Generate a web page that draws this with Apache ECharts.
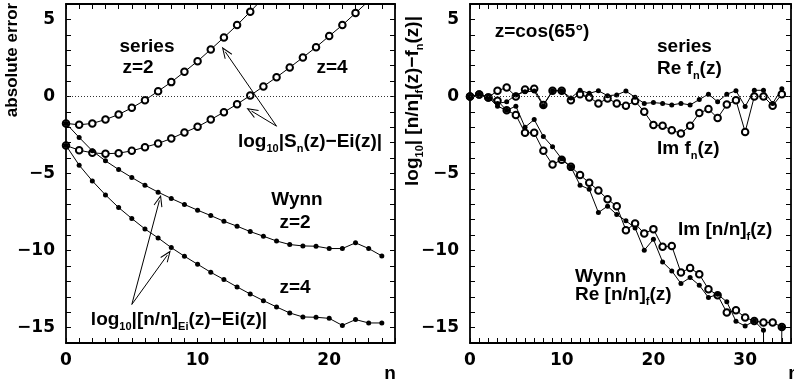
<!DOCTYPE html>
<html><head><meta charset="utf-8">
<script src="https://cdn.jsdelivr.net/npm/echarts@6/dist/echarts.min.js"></script>
<style>html,body{margin:0;padding:0;background:#fff}#c{width:794px;height:392px}</style>
</head><body><div id="c"></div>
<script>
// ---- Left panel data (n = index) ----
const seriesZ2 = [-1.75, -1.84, -1.75, -1.5, -1.17, -0.74, -0.24, 0.34, 0.93, 1.6, 2.29, 3.05, 3.83, 4.63, 5.5, 6.4];
const seriesZ4 = [-3.18, -3.49, -3.66, -3.72, -3.68, -3.53, -3.29, -3.05, -2.73, -2.34, -1.97, -1.5, -1.02, -0.5, 0.06, 0.65, 1.25, 1.88, 2.53, 3.2, 3.92, 4.63, 5.41, 6.2];
const wynnZ2 = [-1.75, -2.66, -3.53, -4.18, -4.74, -5.26, -5.76, -6.21, -6.62, -7.01, -7.38, -7.73, -8.1, -8.42, -8.77, -9.07, -9.38, -9.61, -9.7, -9.72, -9.87, -9.87, -9.5, -9.87, -10.35];
const wynnZ4 = [-3.18, -4.46, -5.48, -6.39, -7.21, -7.92, -8.6, -9.18, -9.81, -10.37, -10.89, -11.41, -11.88, -12.36, -12.82, -13.25, -13.66, -14.05, -14.31, -14.33, -14.4, -14.86, -14.48, -14.7, -14.7];
// ---- Right panel data (n = index) ----
const reF = [0, 0.12, -0.06, -0.45, -0.35, 0.1, 0.3, 0.35, -0.6, 0.37, 0.37, -0.1, 0.4, 0.2, 0.37, 0.05, 0.1, 0.35, -0.05, -0.45, -0.4, -0.45, -0.55, -0.45, -0.55, -0.2, 0.15, -0.35, 0.15, 0.37, -0.65, 0.4, 0.4, -0.45, 0.5];
const imF = [0, 0.13, -0.06, 0.37, 0.58, 0.0, 0.45, 0.5, -0.55, 0.37, 0.37, -0.24, 0.15, -0.06, -0.45, -0.13, -0.45, -0.6, -0.3, -1.0, -1.86, -1.9, -2.19, -2.4, -1.9, -1.08, -0.82, -1.4, -0.52, -0.25, -2.3, 0.0, 0.0, -0.6, 0.15];
const wynnRe = [0, 0.13, -0.06, -0.63, -0.9, -0.63, -2.0, -1.5, -2.6, -3.27, -4.05, -4.57, -5.76, -6.02, -7.53, -7.12, -7.66, -8.07, -8.53, -9.98, -9.27, -10.74, -11.32, -12.14, -11.75, -12.25, -13.05, -12.84, -13.33, -14.59, -14.9, -14.57, -15.17, -99, -14.96];
const wynnIm = [0, 0.13, -0.06, -0.28, -0.9, -1.2, -2.36, -2.36, -3.53, -4.42, -4.1, -4.57, -5.1, -5.6, -6.1, -6.67, -7.12, -8.68, -8.25, -8.9, -8.61, -9.76, -9.7, -11.43, -11.13, -11.54, -12.51, -12.9, -14.02, -13.87, -14.35, -14.57, -14.67, -14.67, -14.96];
// ---- axis settings ----
const xMaxLeft = 25, xMaxRight = 35, yMin = -16, yMax = 6;
const xLabelStep = 10, yLabelStep = 5;

const NUMFONT = 'DejaVu Sans';
const TXTFONT = 'Liberation Sans';

function fmt(step) {
  return v => (Math.round(v) % step === 0) ? (v < 0 ? '\u2212' + Math.abs(v) : String(v)) : '';
}
const axisLine = { onZero: false, lineStyle: { color: '#000', width: 1.8 } };
const axisTick = { inside: true, length: 5, lineStyle: { color: '#000', width: 1 } };
function xAx(gi, max, pos, showLabel) {
  return { gridIndex: gi, type: 'value', min: 0, max: max, interval: 1, position: pos,
    axisLine, axisTick, splitLine: { show: false },
    axisLabel: { show: showLabel, formatter: fmt(xLabelStep), color: '#000', fontFamily: NUMFONT, fontWeight: 'bold', fontSize: 17, margin: 9, showMaxLabel: true } };
}
function yAx(gi, pos, showLabel) {
  return { gridIndex: gi, type: 'value', min: yMin, max: yMax, interval: 1, position: pos,
    axisLine, axisTick, splitLine: { show: false },
    axisLabel: { show: showLabel, formatter: fmt(yLabelStep), color: '#000', fontFamily: NUMFONT, fontWeight: 'bold', fontSize: 17, margin: 11 } };
}
const pts = arr => arr.map((v, i) => [i, v]);
function openS(arr, xi, yi, extra) {
  return Object.assign({ type: 'line', xAxisIndex: xi, yAxisIndex: yi, data: pts(arr), symbol: 'circle', symbolSize: 6.5,
    showAllSymbol: true, z: 2, lineStyle: { color: '#000', width: 1 },
    itemStyle: { color: '#fff', borderColor: '#000', borderWidth: 2 }, emphasis: { disabled: true } }, extra || {});
}
function fillS(arr, xi, yi, extra) {
  return Object.assign({ type: 'line', xAxisIndex: xi, yAxisIndex: yi, data: pts(arr), symbol: 'circle', symbolSize: 5,
    showAllSymbol: true, z: 3, lineStyle: { color: '#000', width: 1 },
    itemStyle: { color: '#000', borderWidth: 0 }, emphasis: { disabled: true } }, extra || {});
}
const zeroLine = { silent: true, symbol: 'none', label: { show: false }, animation: false,
  lineStyle: { type: [1, 2], color: '#333', width: 1 }, data: [{ yAxis: 0 }] };
const arrowPath = 'path://M5,0 L10,14 L9,14.6 L5,3.5 L1,14.6 L0,14 Z';
function arrows(list) {
  return { silent: true, symbol: ['none', arrowPath], symbolSize: [9, 12], symbolOffset: [0, 0], label: { show: false }, animation: false,
    lineStyle: { type: 'solid', color: '#000', width: 1 },
    data: list.map(a => [{ coord: a[0] }, { coord: a[1] }]) };
}
// arrow anchors in data coords [n, value]
const upperArrows = [[[16, -1.93], [12.1, 2.9]], [[16, -1.93], [14.1, -0.95]]];
const lowerArrows = [[[5, -13.5], [7.1, -6.75]], [[5, -13.5], [7.7, -10.3]]];

const T = (x, y, text, opt) => Object.assign({ type: 'text', x, y, silent: true,
  style: Object.assign({ text, fill: '#000', font: 'bold 19px "' + TXTFONT + '"', align: 'center', verticalAlign: 'middle' }, (opt && opt.style) || {}) },
  (opt && opt.rot) ? { rotation: opt.rot } : {});
const richBase = (size) => ({
  m: { fontFamily: TXTFONT, fontWeight: 'bold', fontSize: size, lineHeight: 22, verticalAlign: 'bottom', padding: [0, 0, 3, 0] },
  s: { fontFamily: TXTFONT, fontWeight: 'bold', fontSize: Math.round(size * 0.58), lineHeight: 14, verticalAlign: 'bottom', padding: [0, 0, 0, 0] }
});
const R = (x, y, text, size, align, rot) => {
  const el = { type: 'text', x, y, silent: true,
    style: { text, fill: '#000', rich: richBase(size), align: align || 'center', verticalAlign: 'middle' } };
  if (rot) el.rotation = rot;
  return el;
};

const option = {
  animation: false,
  backgroundColor: '#fff',
  textStyle: { fontFamily: TXTFONT },
  grid: [
    { left: 66, top: 4, width: 329, height: 339 },
    { left: 470, top: 4, width: 329, height: 339 }
  ],
  xAxis: [xAx(0, xMaxLeft, 'bottom', true), xAx(0, xMaxLeft, 'top', false), xAx(1, xMaxRight, 'bottom', true), xAx(1, xMaxRight, 'top', false)],
  yAxis: [yAx(0, 'left', true), yAx(0, 'right', false), yAx(1, 'left', true), yAx(1, 'right', false)],
  series: [
    openS(seriesZ2, 0, 0, { markLine: zeroLine }),
    openS(seriesZ4, 0, 0, { markLine: arrows(upperArrows) }),
    fillS(wynnZ2, 0, 0, { markLine: arrows(lowerArrows) }),
    fillS(wynnZ4, 0, 0),
    openS(imF, 2, 2, { markLine: zeroLine }),
    openS(wynnIm, 2, 2),
    fillS(reF, 2, 2),
    fillS(wynnRe, 2, 2)
  ],
  graphic: [
    T(12, 60, 'absolute error', { rot: Math.PI / 2, style: { font: 'bold 17px "' + TXTFONT + '"' } }),
    T(147, 47, 'series'),
    T(138, 68, 'z=2'),
    T(332, 68, 'z=4'),
    R(310, 143, '{m|log}{s|10}{m||S}{s|n}{m|(z)\u2212Ei(z)|}', 19),
    T(297, 200, 'Wynn'),
    T(295, 223, 'z=2'),
    T(295, 288, 'z=4'),
    R(179, 321, '{m|log}{s|10}{m||[n/n]}{s|Ei}{m|(z)\u2212Ei(z)|}', 19),
    T(390, 374, 'n'),
    T(794, 374, 'n'),
    R(414, 101, '{m|log}{s|10}{m|| [n/n]}{s|f}{m|(z)\u2212f}{s|n}{m|(z)|}', 19, 'center', Math.PI / 2),
    T(542, 32, 'z=cos(65\u00b0)'),
    T(657, 47, 'series', { style: { align: 'left' } }),
    R(657, 70, '{m|Re f}{s|n}{m|(z)}', 19, 'left'),
    R(657, 150, '{m|Im f}{s|n}{m|(z)}', 19, 'left'),
    R(678, 231, '{m|Im [n/n]}{s|f}{m|(z)}', 19, 'left'),
    T(575, 277, 'Wynn', { style: { align: 'left' } }),
    R(575, 296, '{m|Re [n/n]}{s|f}{m|(z)}', 19, 'left')
  ]
};
const chart = echarts.init(document.getElementById('c'), null, { renderer: 'canvas' });
chart.setOption(option);
</script></body></html>
